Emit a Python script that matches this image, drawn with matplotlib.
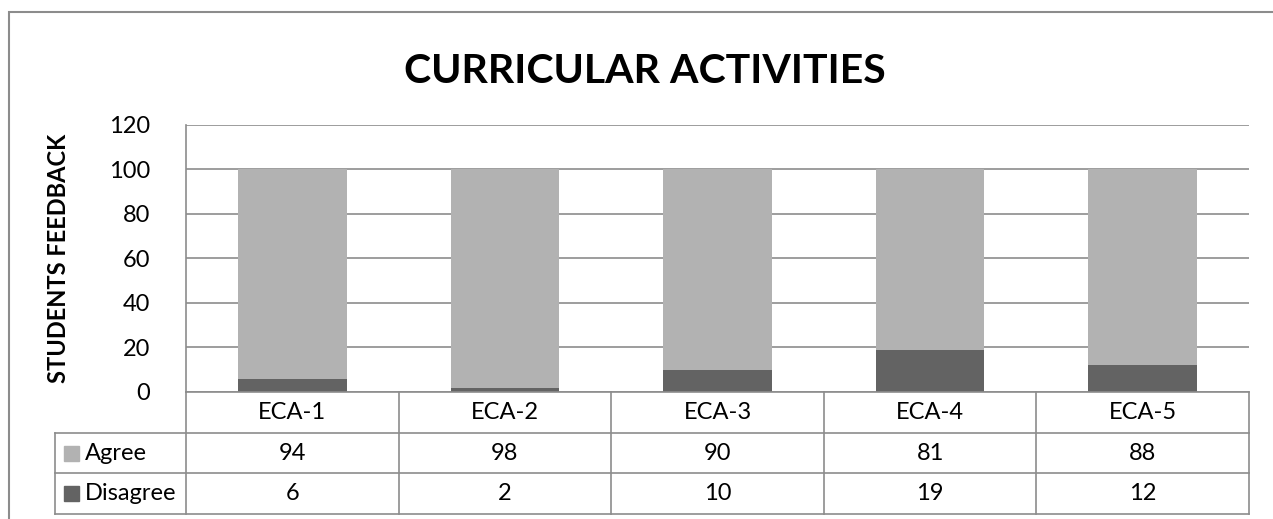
import matplotlib
matplotlib.use("Agg")
import matplotlib.pyplot as plt
from matplotlib.patches import Rectangle

plt.rcParams['font.family'] = ['Lato', 'DejaVu Sans']

categories = ["ECA-1", "ECA-2", "ECA-3", "ECA-4", "ECA-5"]
agree = [94, 98, 90, 81, 88]
disagree = [6, 2, 10, 19, 12]
series_names = ["Agree", "Disagree"]

c_agree = "#b2b2b2"
c_dis = "#636363"
c_line = "#8c8c8c"

W, H = 1273, 519
fig = plt.figure(figsize=(W / 100, H / 100), dpi=100)

def fx(px):
    return px / W

def fy(py):
    return 1 - py / H

# outer chart border (right/bottom run off the image)
fig.patches.append(Rectangle((fx(9), fy(600)), fx(1400), fy(12) - fy(600),
                             transform=fig.transFigure, fill=False,
                             edgecolor=c_line, linewidth=1.5))

# main plot area
left, right, top, bottom = 186, 1249, 124.5, 392
ax = fig.add_axes([fx(left), fy(bottom), fx(right - left), fy(top) - fy(bottom)])
x = list(range(len(categories)))
ax.bar(x, disagree, width=0.51, color=c_dis, zorder=3)
ax.bar(x, agree, width=0.51, bottom=disagree, color=c_agree, zorder=3)
ax.set_xlim(-0.5, len(categories) - 0.5)
ax.set_ylim(0, 120)
ax.set_yticks(range(0, 121, 20))
ax.set_xticks([])
ax.yaxis.grid(True, color=c_line, linewidth=1.2, zorder=0)
for s in ["top", "right", "bottom"]:
    ax.spines[s].set_visible(False)
ax.spines["left"].set_color(c_line)
ax.spines["left"].set_linewidth(1.2)
ax.tick_params(axis="y", length=0, pad=26, labelsize=17)
ax.set_ylabel("STUDENTS FEEDBACK", fontsize=17, fontweight="bold")
ax.yaxis.set_label_coords(fx(70 - left) / fx(right - left), 0.5)

fig.text(fx(645), fy(72), "CURRICULAR ACTIVITIES", ha="center", va="center",
         fontsize=29.5, fontweight="bold")

# data table below the plot
tleft, tbot = 55, 514
row_h = (tbot - bottom) / 3
colw = (right - left) / len(categories)
tab = fig.add_axes([fx(tleft), fy(tbot), fx(right - tleft), fy(bottom) - fy(tbot)])
xmin = -0.5 - (left - tleft) / colw
tab.set_xlim(xmin, len(categories) - 0.5)
tab.set_ylim(0, 3)
tab.axis("off")
lw = 1.2
# horizontal lines
tab.plot([-0.5, len(categories) - 0.5], [3, 3], color=c_line, lw=lw, clip_on=False)
for yy in [2, 1, 0]:
    tab.plot([xmin, len(categories) - 0.5], [yy, yy], color=c_line, lw=lw, clip_on=False)
# vertical lines
for i in range(len(categories) + 1):
    tab.plot([i - 0.5, i - 0.5], [0, 3], color=c_line, lw=lw, clip_on=False)
tab.plot([xmin, xmin], [0, 2], color=c_line, lw=lw, clip_on=False)

fs = 17
for i, c in enumerate(categories):
    tab.text(i, 2.5, c, ha="center", va="center", fontsize=fs)
    tab.text(i, 1.5, str(agree[i]), ha="center", va="center", fontsize=fs)
    tab.text(i, 0.5, str(disagree[i]), ha="center", va="center", fontsize=fs)

for row, name, col in [(1.5, series_names[0], c_agree), (0.5, series_names[1], c_dis)]:
    sq_w = 15 / colw
    sq_h = 15 / row_h
    tab.add_patch(Rectangle((xmin + 9 / colw, row - sq_h / 2), sq_w, sq_h,
                            color=col, clip_on=False))
    tab.text(xmin + 30 / colw, row, name, ha="left", va="center", fontsize=fs)

fig.savefig("out.png", dpi=100)
